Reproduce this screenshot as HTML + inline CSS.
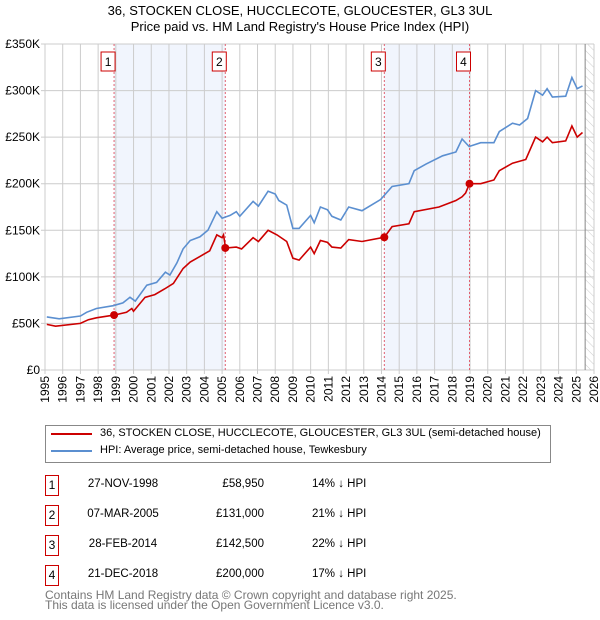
<!DOCTYPE html>
<html><head><meta charset="utf-8"><style>
body{margin:0;background:#fff;font-family:"Liberation Sans","DejaVu Sans",sans-serif;}
#wrap{position:relative;width:600px;height:620px;overflow:hidden;}
.t{position:absolute;font-size:12px;color:#000;white-space:nowrap;}
.box{position:absolute;width:12px;height:19px;border:1px solid #c00;font-size:12px;text-align:center;line-height:19px;}
</style></head><body><div id="wrap">
<div class="t" style="left:0;width:600px;text-align:center;top:3px;font-size:13px;line-height:16px">36, STOCKEN CLOSE, HUCCLECOTE, GLOUCESTER, GL3 3UL<br>Price paid vs. HM Land Registry's House Price Index (HPI)</div>
<svg id="chart" width="600" height="420" style="position:absolute;left:0;top:0"></svg>
<div style="position:absolute;left:45px;top:425px;width:504px;height:36px;border:1px solid #888;">
<div style="position:absolute;left:5px;top:7px;width:41px;height:2px;background:#c00"></div>
<div class="t" style="left:54px;top:1px;font-size:11px">36, STOCKEN CLOSE, HUCCLECOTE, GLOUCESTER, GL3 3UL (semi-detached house)</div>
<div style="position:absolute;left:5px;top:24px;width:41px;height:2px;background:#5b8fd0"></div>
<div class="t" style="left:54px;top:18px;font-size:11px">HPI: Average price, semi-detached house, Tewkesbury</div>
</div>
<div id="table"></div>
<div class="t" style="left:45px;top:590px;color:#777;line-height:10px;font-size:12px">Contains HM Land Registry data © Crown copyright and database right 2025.<br>This data is licensed under the Open Government Licence v3.0.</div>
</div>
<script>
const hpiYears=[1995.1,1995.8,1997,1997.35,1997.9,1998.85,1999.4,1999.8,2000.1,2000.75,2001.3,2001.8,2002.05,2002.45,2002.8,2003.2,2003.75,2004.2,2004.7,2005.0,2005.45,2005.8,2006.0,2006.75,2007.05,2007.6,2008.0,2008.2,2008.65,2009.0,2009.35,2010.0,2010.2,2010.55,2010.95,2011.2,2011.7,2012.15,2012.9,2013.95,2014.6,2015.55,2015.85,2016.5,2017.45,2018.2,2018.55,2018.95,2019.6,2020.35,2020.65,2021.4,2021.8,2022.25,2022.7,2023.1,2023.35,2023.65,2024.4,2024.75,2025.05,2025.35];
const hpiValues=[57,55,58,62,66,69,72,78,74,91,94,105,102,115,130,139,143,150,170,163,166,170,165,181,176,192,189,182,177,152,152,166,158,175,172,165,161,175,171,183,197,200,214,221,230,234,248,240,244,244,256,265,263,270,300,295,302,293,294,314,302,305];
const ppYears=[1995.1,1995.6,1997,1997.45,1997.9,1998.9,1999.6,1999.9,2000.0,2000.65,2001.2,2001.75,2002.25,2002.8,2003.2,2003.75,2004.3,2004.7,2005.0,2005.08,2005.2,2005.8,2006.1,2006.75,2007.05,2007.6,2008.1,2008.65,2009.0,2009.35,2010.0,2010.2,2010.55,2010.95,2011.2,2011.7,2012.15,2012.9,2014.16,2014.6,2015.55,2015.85,2017.25,2018.2,2018.55,2018.75,2018.97,2019.6,2020.35,2020.65,2021.4,2022.15,2022.7,2023.1,2023.35,2023.65,2024.4,2024.75,2025.05,2025.35];
const ppValues=[49,47,50,54,56,58.95,62,66,63,78,81,87,93,109,116,122,128,145,142,145,131,132,130,142,138,150,145,138,120,118,132,125,139,137,132,131,140,138,142.5,154,157,170,175,182,186,190,200,200,204,214,222,226,250,245,250,244,246,262,250,255];
const saleYears=[1998.9,2005.18,2014.16,2018.97];
const saleValues=[58.95,131,142.5,200];
const saleLabels=["1","2","3","4"];
const saleDates=["27-NOV-1998","07-MAR-2005","28-FEB-2014","21-DEC-2018"];
const salePrices=["£58,950","£131,000","£142,500","£200,000"];
const saleDiffs=["14% ↓ HPI","21% ↓ HPI","22% ↓ HPI","17% ↓ HPI"];
const yTicks=[0,50,100,150,200,250,300,350];
const yTickLabels=["£0","£50K","£100K","£150K","£200K","£250K","£300K","£350K"];
const xTicks=[1995,1996,1997,1998,1999,2000,2001,2002,2003,2004,2005,2006,2007,2008,2009,2010,2011,2012,2013,2014,2015,2016,2017,2018,2019,2020,2021,2022,2023,2024,2025,2026];
const X0=45,X1=594,Y0=370,Y1=44;
const sx=y=>X0+(y-1995)/31*(X1-X0);
const sy=v=>Y0-v/350*(Y0-Y1);
const NS="http://www.w3.org/2000/svg";
const svg=document.getElementById('chart');
function mk(tag,attrs,parent){const e=document.createElementNS(NS,tag);for(const k in attrs)e.setAttribute(k,attrs[k]);(parent||svg).appendChild(e);return e;}
const defs=mk('defs',{});
const pat=mk('pattern',{id:'h',width:6,height:6,patternUnits:'userSpaceOnUse',patternTransform:'rotate(-45)'},defs);
mk('line',{x1:0,y1:0,x2:0,y2:6,stroke:'#ccc','stroke-width':1},pat);
for(let i=0;i<saleYears.length;i+=2){
 const r=mk('rect',{x:sx(saleYears[i]),y:Y1,width:sx(saleYears[i+1])-sx(saleYears[i]),height:Y0-Y1,fill:'#eef3fc',opacity:0.8});
 
 
}
const hx=sx(2025.5);
const hr=mk('rect',{x:hx,y:Y1,width:X1-hx,height:Y0-Y1,fill:'url(#h)'});


xTicks.forEach(t=>{
 const l=mk('line',{x1:sx(t),x2:sx(t),y1:Y1,y2:Y0+4,stroke:'#ccc','stroke-width':1});
 
 
 const tx=mk('text',{x:0,y:0,transform:`translate(${sx(t)+4},${Y0+6}) rotate(-90)`,'text-anchor':'end','font-size':12,fill:'#000'});
 
 
 tx.textContent=t;
});
yTicks.forEach((t,i)=>{
 const l=mk('line',{x1:X0-4,x2:X1,y1:sy(t),y2:sy(t),stroke:'#ccc','stroke-width':1});
 
 
 const tx=mk('text',{x:40,y:sy(t)+4,'text-anchor':'end','font-size':12,fill:'#000'});
 
 
 tx.textContent=yTickLabels[i];
});
mk('line',{x1:hx,x2:hx,y1:Y1,y2:Y0,stroke:'#888','stroke-width':1});
saleYears.forEach((y,i)=>{
 const l=mk('line',{x1:sx(y),x2:sx(y),y1:Y1,y2:Y0,stroke:'#e06070','stroke-width':1,'stroke-dasharray':'2,2'});
 
 
 const b=mk('rect',{x:sx(y)-13,y:52,width:14,height:19,fill:'#fff',stroke:'#c00','stroke-width':1});
 
 
 const tx=mk('text',{x:sx(y)-6,y:66,'text-anchor':'middle','font-size':12,fill:'#000'});
 
 
 tx.textContent=saleLabels[i];
});
function path(xs,vs){return xs.map((x,i)=>(i?'L':'M')+sx(x).toFixed(1)+','+sy(vs[i]).toFixed(1)).join('');}
const hp=mk('path',{d:path(hpiYears,hpiValues),fill:'none',stroke:'#5b8fd0','stroke-width':1.6});


const pp=mk('path',{d:path(ppYears,ppValues),fill:'none',stroke:'#cc0000','stroke-width':1.6});


saleYears.forEach((y,i)=>{
 const c=mk('circle',{cx:sx(y),cy:sy(saleValues[i]),r:4,fill:'#cc0000'});
 
 
});
const tb=document.getElementById('table');
saleLabels.forEach((s,i)=>{
 const top=475+i*30;
 const row=document.createElement('div');
 
 
 row.innerHTML=`<div class="box" style="left:45px;top:${top}px">${s}</div>
 <div class="t" style="left:73px;width:100px;text-align:center;top:${top+3}px;font-size:11.5px">${saleDates[i]}</div>
 <div class="t" style="left:184px;width:80px;text-align:right;top:${top+3}px;font-size:11.5px">${salePrices[i]}</div>
 <div class="t" style="left:312px;top:${top+3}px;font-size:11.5px">${saleDiffs[i]}</div>`;
 tb.appendChild(row);
});
</script></body></html>
